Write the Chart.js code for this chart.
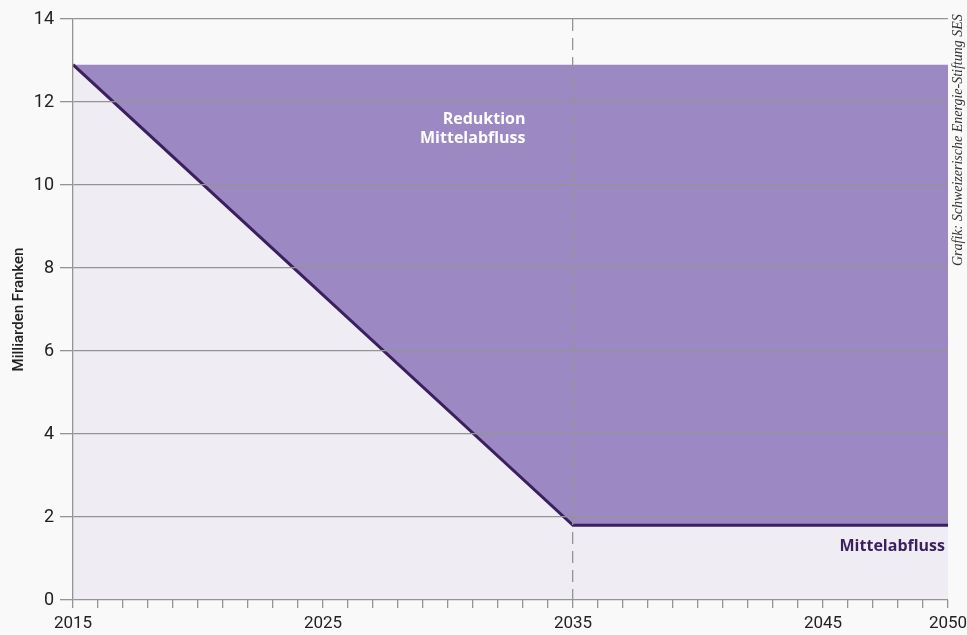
<!DOCTYPE html>
<html>
<head>
<meta charset="utf-8">
<script src="https://cdn.jsdelivr.net/npm/chart.js@4"></script>
<style>
  html, body { margin: 0; padding: 0; background: #f9f9f9; }
  canvas { display: block; }
</style>
</head>
<body>
<canvas id="myChart" width="967" height="635"></canvas>
<script>
// Jahre der Knickpunkte
const years = [2015, 2035, 2050]
// Mittelabfluss (Mrd. Fr.)
const mittelabfluss = [12.9, 1.8, 1.8]
// heutiges Niveau, Obergrenze der Reduktion
const ausgangsniveau = [12.9, 12.9, 12.9]
const xLabelYears = [2015, 2025, 2035, 2045, 2050]
const yMax = 14
const yStep = 2

const PURPLE = '#9c88c2'
const DARK = '#3b1f5f'
const LIGHT = '#efecf3'
const GRID = '#949494'

const toPoints = (ys) => years.map((x, i) => ({ x: x, y: ys[i] }))

const textPlugin = {
  id: 'texts',
  beforeDraw(chart) {
    const c = chart.ctx
    c.save()
    c.fillStyle = '#f9f9f9'
    c.fillRect(0, 0, chart.width, chart.height)
    c.restore()
  },
  afterDraw(chart) {
    const c = chart.ctx
    const xs = chart.scales.x
    const ys = chart.scales.y
    c.save()
    c.font = 'bold 16px "Open Sans"'
    c.textAlign = 'right'
    c.textBaseline = 'middle'
    c.fillStyle = '#ffffff'
    c.fillText('Reduktion', xs.getPixelForValue(2033.1), ys.getPixelForValue(11.58))
    c.fillText('Mittelabfluss', xs.getPixelForValue(2033.1), ys.getPixelForValue(11.12))
    c.fillStyle = DARK
    c.fillText('Mittelabfluss', xs.getPixelForValue(2050) - 3, ys.getPixelForValue(1.3))
    // Quellenangabe am rechten Rand
    c.translate(958, 266)
    c.rotate(-Math.PI / 2)
    c.font = 'italic 14px "Liberation Serif"'
    c.fillStyle = '#333333'
    c.textAlign = 'left'
    c.fillText('Grafik: Schweizerische Energie-Stiftung SES', 0, 0)
    c.restore()
  }
}

const ctx = document.getElementById('myChart').getContext('2d')
const myChart = new Chart(ctx, {
  type: 'line',
  data: {
    datasets: [
      {
        label: 'Mittelabfluss',
        data: toPoints(mittelabfluss),
        borderColor: DARK,
        borderWidth: 3,
        backgroundColor: LIGHT,
        fill: 'origin',
        pointRadius: 0,
        tension: 0,
      },
      {
        label: 'Reduktion Mittelabfluss',
        data: toPoints(ausgangsniveau),
        borderWidth: 0,
        borderColor: 'transparent',
        backgroundColor: PURPLE,
        fill: '-1',
        pointRadius: 0,
        tension: 0,
      },
    ],
  },
  options: {
    responsive: false,
    animation: false,
    devicePixelRatio: 1,
    layout: { padding: { top: 19, right: 19, left: 10, bottom: 0 } },
    plugins: {
      legend: { display: false },
      tooltip: { enabled: false },
    },
    scales: {
      x: {
        type: 'linear',
        min: 2015,
        max: 2050,
        z: 1,
        afterBuildTicks(scale) {
          const t = []
          for (let y = 2015; y <= 2050; y++) t.push({ value: y })
          scale.ticks = t
        },
        afterFit(scale) {
          scale.height = 35
          scale.paddingRight = 0
        },
        border: { display: false, dash: [12, 7], z: 1 },
        grid: {
          z: 1,
          color: (c) => (c.tick && c.tick.value === 2035 ? GRID : 'transparent'),
          lineWidth: 1.3,
          tickColor: GRID,
          tickLength: 8,
          tickWidth: 1.3,
        },
        ticks: {
          autoSkip: false,
          maxRotation: 0,
          padding: 6,
          color: '#222',
          font: { family: 'Roboto', size: 17 },
          callback: (v) => (xLabelYears.includes(v) ? String(v) : ''),
        },
      },
      y: {
        min: 0,
        max: yMax,
        z: 1,
        afterFit(scale) { scale.width = 63 },
        border: { display: true, color: GRID, width: 1.3, z: 1 },
        grid: {
          z: 1,
          color: GRID,
          lineWidth: 1.3,
          tickLength: 13,
        },
        ticks: {
          stepSize: yStep,
          padding: 6,
          color: '#222',
          font: { family: 'Roboto', size: 18 },
        },
        title: {
          display: true,
          text: 'Milliarden Franken',
          color: '#222',
          font: { family: 'Roboto', size: 15, weight: '500' },
          padding: { top: 0, bottom: 4 },
        },
      },
    },
  },
  plugins: [textPlugin],
})
</script>
</body>
</html>
